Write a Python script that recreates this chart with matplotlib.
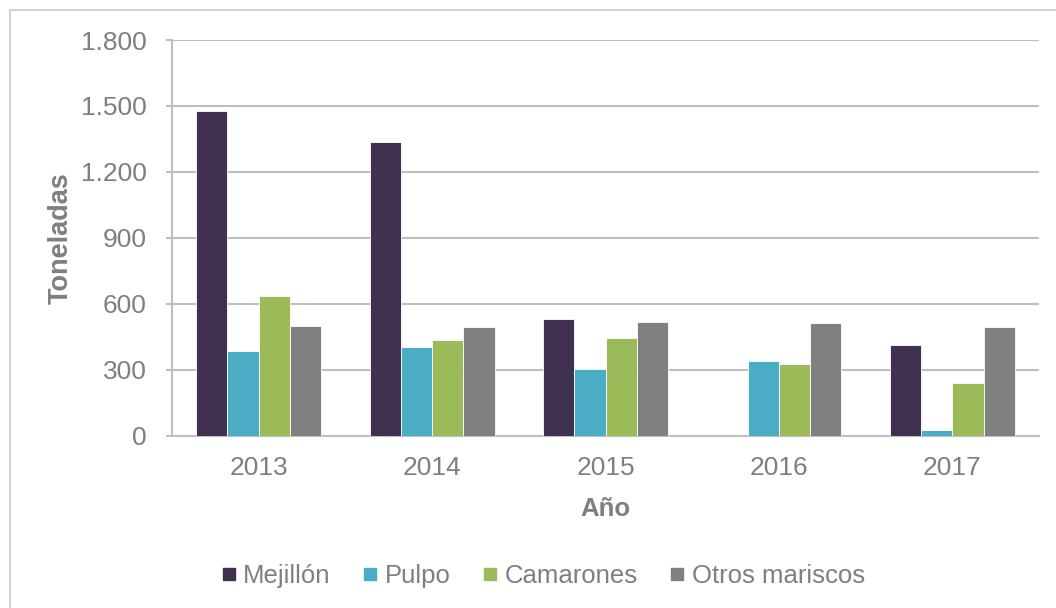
import matplotlib
matplotlib.use("Agg")
import matplotlib.pyplot as plt
import numpy as np
from matplotlib.lines import Line2D
from matplotlib.patches import Rectangle

years = ["2013", "2014", "2015", "2016", "2017"]
series_names = ["Mejillón", "Pulpo", "Camarones", "Otros mariscos"]
mejillon = [1478, 1337, 531, 0, 411]
pulpo = [385, 401, 304, 337, 24]
camarones = [634, 433, 443, 325, 239]
otros = [499, 496, 516, 513, 495]
yticks = [0, 300, 600, 900, 1200, 1500, 1800]
ytick_labels = ["0", "300", "600", "900", "1.200", "1.500", "1.800"]
colors = ["#403151", "#4BACC6", "#9BBB59", "#808080"]

plt.rcParams['font.family'] = ['Liberation Sans', 'DejaVu Sans']
txt = "#7f7f7f"
grid = "#bfbfbf"

fig = plt.figure(figsize=(10.56, 6.08), dpi=100)
ax = fig.add_axes([172/1056, 1-435.5/608, (1039-172)/1056, (435.5-40)/608])

# outer chart border
fig.patches.append(Rectangle((10/1056, -0.1), 1.2, 1 - 10/608 + 0.1,
                             transform=fig.transFigure, fill=False,
                             edgecolor="#c8c8c8", linewidth=1.2))

x = np.arange(len(years))
w = 0.18
data = [mejillon, pulpo, camarones, otros]
for i, (vals, c, name) in enumerate(zip(data, colors, series_names)):
    ax.bar(x + (i - 1.5) * w, vals, width=w, color=c, edgecolor="white",
           linewidth=0.6, label=name, zorder=3)

ax.set_xlim(-0.5, len(years) - 0.5)
ax.set_ylim(0, 1800)
ax.set_yticks(yticks)
ax.set_yticklabels(ytick_labels)
ax.set_xticks(x)
ax.set_xticklabels(years)
ax.yaxis.grid(True, color=grid, linewidth=1.5, zorder=0)
ax.set_axisbelow(True)
for s in ["top", "right"]:
    ax.spines[s].set_visible(False)
for s in ["left", "bottom"]:
    ax.spines[s].set_color(grid)
    ax.spines[s].set_linewidth(1.5)
ax.tick_params(axis="y", length=4, color=grid, width=1.5, pad=14,
               labelsize=19, labelcolor=txt)
ax.tick_params(axis="x", length=0, pad=15, labelsize=19, labelcolor=txt)

ax.set_ylabel("Toneladas", fontsize=19.5, fontweight="bold", color=txt, labelpad=5)
ax.set_xlabel("Año", fontsize=18.5, fontweight="bold", color=txt, labelpad=12)

handles = [Line2D([], [], marker="s", linestyle="none", markersize=9,
                  markerfacecolor=c, markeredgecolor=c) for c in colors]
fig.legend(handles, series_names, loc="center", ncol=4,
           bbox_to_anchor=(543/1056, 1-576/608), frameon=False,
           fontsize=18.5, labelcolor=txt, handlelength=0.6, handletextpad=0.25,
           columnspacing=1.25)

fig.savefig("out.png", dpi=100)
